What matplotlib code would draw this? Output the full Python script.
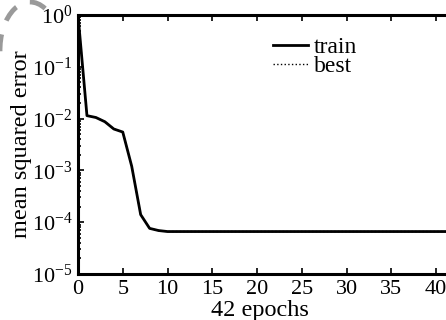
import matplotlib
matplotlib.use("Agg")
import matplotlib.pyplot as plt
import numpy as np
from matplotlib.patches import Arc
from matplotlib.ticker import LogLocator, LogFormatterSciNotation

plt.rcParams["font.family"] = "Liberation Serif"
plt.rcParams["mathtext.fontset"] = "custom"
plt.rcParams["mathtext.rm"] = "Liberation Serif"
plt.rcParams["mathtext.it"] = "Liberation Serif:italic"

# training performance (mean squared error) per epoch
epochs = np.arange(0, 43)
train_mse = [1.0, 0.0114, 0.0105, 0.0087, 0.0063, 0.0055, 0.0012, 1.4e-4,
             7.6e-5, 6.9e-5] + [6.6e-5] * 33
best_mse = train_mse
x_ticks = [0, 5, 10, 15, 20, 25, 30, 35, 40]

W, H = 446, 320
fig = plt.figure(figsize=(W / 100, H / 100), dpi=100)
# axes run past the right edge of the picture (cropped figure)
ax = fig.add_axes([78 / W, 1 - 274 / H, (454 - 78) / W, (274 - 15) / H])

ax.plot(epochs, train_mse, color="black", linewidth=2.0, label="train")
ax.plot(epochs, best_mse, color="black", linewidth=1.0, linestyle=":", label="best")

ax.set_yscale("log")
ax.set_ylim(1e-5, 1)
ax.set_xlim(0, 42)
ax.set_xticks(x_ticks)
ax.yaxis.set_major_locator(LogLocator(base=10, numticks=10))
ax.yaxis.set_minor_locator(LogLocator(base=10, subs=np.arange(2, 10), numticks=20))
ax.yaxis.set_major_formatter(LogFormatterSciNotation())

ax.tick_params(which="both", direction="in", top=True, right=True, width=1.2,
               labelsize=16, pad=4)
ax.tick_params(which="major", length=4)
ax.tick_params(which="minor", length=2.5)
for s in ax.spines.values():
    s.set_linewidth(2.2)

ax.set_ylabel("mean squared error", fontsize=17.5, labelpad=0)
ax.set_xlabel("42 epochs", fontsize=17.5, labelpad=-1)
ax.xaxis.set_label_coords(0.484, -0.1)

ax.legend(loc="upper left", bbox_to_anchor=(261 / W, 1 - 25 / H),
          bbox_transform=fig.transFigure, frameon=False, borderpad=0,
          handlelength=1.5, handletextpad=0.25, labelspacing=-0.1, fontsize=17)

# grey dashed outline fragment in the top-left corner
arc = Arc((30, H - 50), 60, 96, theta1=70, theta2=185, transform=None,
          edgecolor="#9a9a9a", linewidth=3.5, linestyle=(0, (3.5, 3)))
fig.patches.append(arc)

fig.savefig("out.png", dpi=100)
